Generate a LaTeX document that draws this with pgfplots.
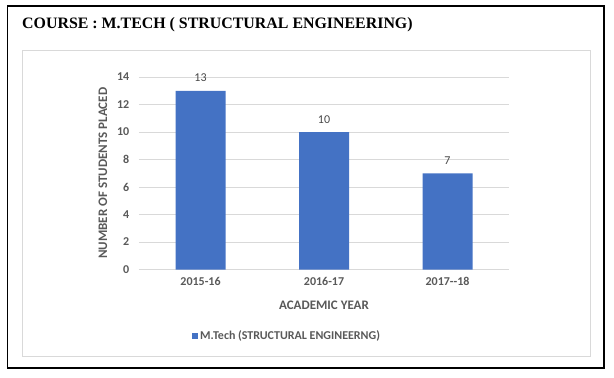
\documentclass[border=0pt]{standalone}
\usepackage{pgfplots}
\pgfplotsset{compat=1.18}
\usepackage{fontspec}
\setmainfont{Carlito}
\newfontfamily\titlefont{Liberation Serif}
\definecolor{barblue}{HTML}{4472C4}
\definecolor{txtgray}{HTML}{595959}
\definecolor{gridgray}{HTML}{D9D9D9}
\begin{document}
\begin{tikzpicture}[x=1bp,y=1bp]
\useasboundingbox (0,0) rectangle (614,377);
\draw[line width=1.5bp,black] (7.3,9) rectangle (604,371);
\draw[line width=0.75bp,gridgray] (22,21) rectangle (590,327);
\node[anchor=base west,inner sep=0,font=\titlefont\bfseries\fontsize{15.9bp}{18bp}\selectfont] at (22,348.5) {COURSE : M.TECH ( STRUCTURAL ENGINEERING)};
\begin{axis}[
  at={(138.75bp,107.5bp)}, anchor=south west,
  scale only axis, width=370.5bp, height=192.5bp,
  ybar, bar width=50bp,
  xmin=-0.5, xmax=2.5, ymin=0, ymax=14,
  xtick={0,1,2}, xticklabels={2015-16,2016-17,2017-{}-18},
  ytick={0,2,...,14},
  yticklabels={\textbf{0},\textbf{2},\textbf{4},\textbf{6},\textbf{8},\textbf{10},\textbf{12},\textbf{14}},
  ymajorgrids, grid style={gridgray, line width=0.75bp},
  axis x line*=bottom, axis y line*=left,
  x axis line style={draw=gridgray, line width=0.75bp, -},
  y axis line style={draw=none},
  major tick length=0,
  tick label style={font=\bfseries\fontsize{12bp}{14bp}\selectfont, text=txtgray},
  /pgf/number format/assume math mode=true,
  yticklabel style={xshift=-6bp},
  xticklabel style={yshift=-4bp},
  xlabel={ACADEMIC YEAR},
  ylabel={NUMBER OF STUDENTS PLACED},
  label style={font=\bfseries\fontsize{13bp}{15bp}\selectfont, text=txtgray},
  xlabel style={at={(rel axis cs:0.5,-0.185)}, anchor=center},
  ylabel style={at={(rel axis cs:-0.0965,0.5)}, anchor=center},
  nodes near coords,
  nodes near coords style={anchor=base, yshift=9bp, font=\fontsize{12bp}{14bp}\selectfont, text=txtgray!80!black},
  legend style={draw=none, fill=none, at={(rel axis cs:0.1437,-0.345)}, anchor=west, inner sep=0pt,
    font=\bfseries\fontsize{12bp}{14bp}\selectfont, text=txtgray, nodes={inner xsep=2.5bp, inner ysep=0pt}},
  legend cell align=left,
]
\addplot[fill=barblue, draw=none,
  legend image code/.code={\fill[barblue] (0bp,-2.75bp) rectangle (5.5bp,2.75bp);}]
  coordinates {(0,13) (1,10) (2,7)};
\addlegendentry{M.Tech (STRUCTURAL ENGINEERNG)}
\end{axis}
\end{tikzpicture}
\end{document}
